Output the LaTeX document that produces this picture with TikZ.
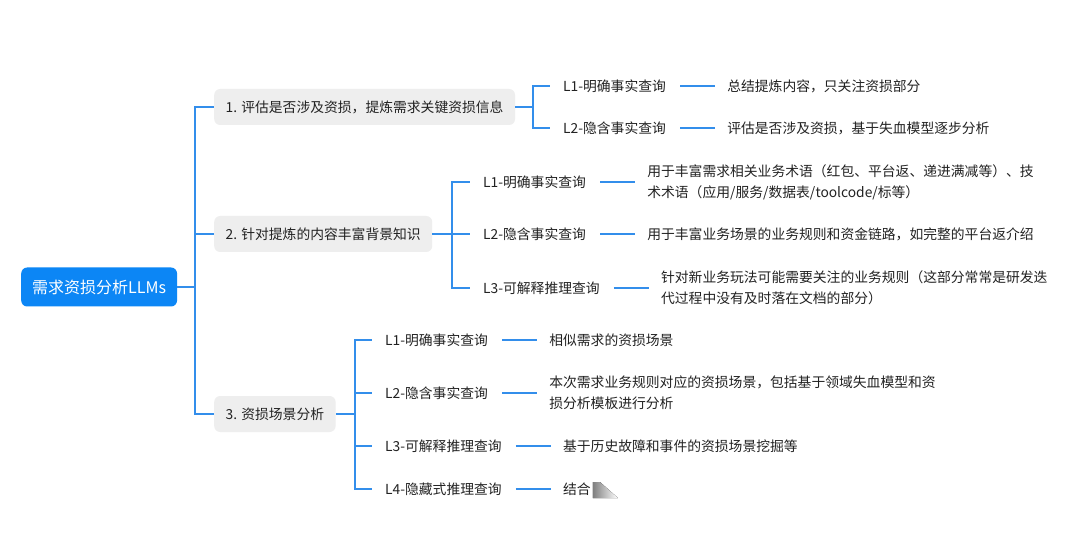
\documentclass[tikz,border=0pt]{standalone}
\usepackage{fontspec}
\setmainfont{Noto Sans CJK SC}
\definecolor{lineblue}{RGB}{51,142,235}
\definecolor{rootblue}{RGB}{12,134,245}
\definecolor{boxgrey}{RGB}{238,238,238}
\definecolor{txtgrey}{RGB}{34,34,34}
\newcommand\mmfs{\fontsize{13.8}{21}\selectfont}
\begin{document}
\begin{tikzpicture}[x=1pt,y=-1pt,
  conn/.style={draw=lineblue,line width=1.4pt},
  rootbox/.style={fill=rootblue,text=white,rounded corners=6pt,inner xsep=11pt,inner ysep=0pt,minimum height=39pt,font=\fontsize{16}{20}\selectfont,anchor=west},
  branch/.style={fill=boxgrey,text=txtgrey,rounded corners=6pt,inner xsep=11.5pt,inner ysep=0pt,minimum height=36pt,font=\mmfs,anchor=west},
  leaf/.style={text=txtgrey,inner xsep=0pt,inner ysep=2pt,font=\mmfs,anchor=west},
  desc/.style={text=txtgrey,inner xsep=0pt,inner ysep=2pt,font=\mmfs,align=left,anchor=west},
  tick/.style={conn,shorten >=13pt},
  link/.style={conn,shorten <=14pt,shorten >=12pt}
]
\useasboundingbox[fill=white] (0,0) rectangle (1080,556);

% root and branches
\node[rootbox] (root) at (21,287) {需求资损分析LLMs};
\node[branch] (b1) at (214,107) {1. 评估是否涉及资损，提炼需求关键资损信息};
\node[branch] (b2) at (214,234) {2. 针对提炼的内容丰富背景知识};
\node[branch] (b3) at (214,414) {3. 资损场景分析};

\coordinate (j0) at (195,287);
\draw[conn] (root.east) -- (j0);
\draw[conn] (j0) |- (b1.west);
\draw[conn] (j0) |- (b2.west);
\draw[conn] (j0) |- (b3.west);

% branch 1
\coordinate (j1) at (533,107);
\node[leaf] (l11) at (563,86) {L1-明确事实查询};
\node[leaf] (l12) at (563,128) {L2-隐含事实查询};
\node[desc] (d11) at ([xshift=61pt]l11.east) {总结提炼内容，只关注资损部分};
\node[desc] (d12) at ([xshift=61pt]l12.east) {评估是否涉及资损，基于失血模型逐步分析};
\draw[conn] (b1.east) -- (j1);
\draw[tick] (j1) |- (l11.west);
\draw[tick] (j1) |- (l12.west);
\draw[link] (l11.east) -- (d11.west);
\draw[link] (l12.east) -- (d12.west);

% branch 2
\coordinate (j2) at (452,234);
\node[leaf] (l21) at (483,182) {L1-明确事实查询};
\node[leaf] (l22) at (483,234) {L2-隐含事实查询};
\node[leaf] (l23) at (483,288) {L3-可解释推理查询};
\node[desc] (d21) at ([xshift=61pt]l21.east) {用于丰富需求相关业务术语（红包、平台返、递进满减等）、技\\术术语（应用/服务/数据表/toolcode/标等）};
\node[desc] (d22) at ([xshift=61pt]l22.east) {用于丰富业务场景的业务规则和资金链路，如完整的平台返介绍};
\node[desc] (d23) at ([xshift=61pt]l23.east) {针对新业务玩法可能需要关注的业务规则（这部分常常是研发迭\\代过程中没有及时落在文档的部分）};
\draw[conn] (b2.east) -- (j2);
\draw[tick] (j2) |- (l21.west);
\draw[tick] (j2) |- (l22.west);
\draw[tick] (j2) |- (l23.west);
\draw[link] (l21.east) -- (d21.west);
\draw[link] (l22.east) -- (d22.west);
\draw[link] (l23.east) -- (d23.west);

% branch 3
\coordinate (j3) at (355,414);
\node[leaf] (l31) at (385,340) {L1-明确事实查询};
\node[leaf] (l32) at (385,393) {L2-隐含事实查询};
\node[leaf] (l33) at (385,446) {L3-可解释推理查询};
\node[leaf] (l34) at (385,489) {L4-隐藏式推理查询};
\node[desc] (d31) at ([xshift=61pt]l31.east) {相似需求的资损场景};
\node[desc] (d32) at ([xshift=61pt]l32.east) {本次需求业务规则对应的资损场景，包括基于领域失血模型和资\\损分析模板进行分析};
\node[desc] (d33) at ([xshift=61pt]l33.east) {基于历史故障和事件的资损场景挖掘等};
\node[desc] (d34) at ([xshift=61pt]l34.east) {结合};
\draw[conn] (b3.east) -- (j3);
\draw[tick] (j3) |- (l31.west);
\draw[tick] (j3) |- (l32.west);
\draw[tick] (j3) |- (l33.west);
\draw[tick] (j3) |- (l34.west);
\draw[link] (l31.east) -- (d31.west);
\draw[link] (l32.east) -- (d32.west);
\draw[link] (l33.east) -- (d33.west);
\draw[link] (l34.east) -- (d34.west);

% grey smudge after the last text
\fill[left color=black!50,right color=white] ([xshift=2pt,yshift=7pt]d34.east) -- ([xshift=9pt,yshift=7pt]d34.east) -- ([xshift=27pt,yshift=-9pt]d34.east) -- ([xshift=2pt,yshift=-9pt]d34.east) -- cycle;
\end{tikzpicture}
\end{document}
